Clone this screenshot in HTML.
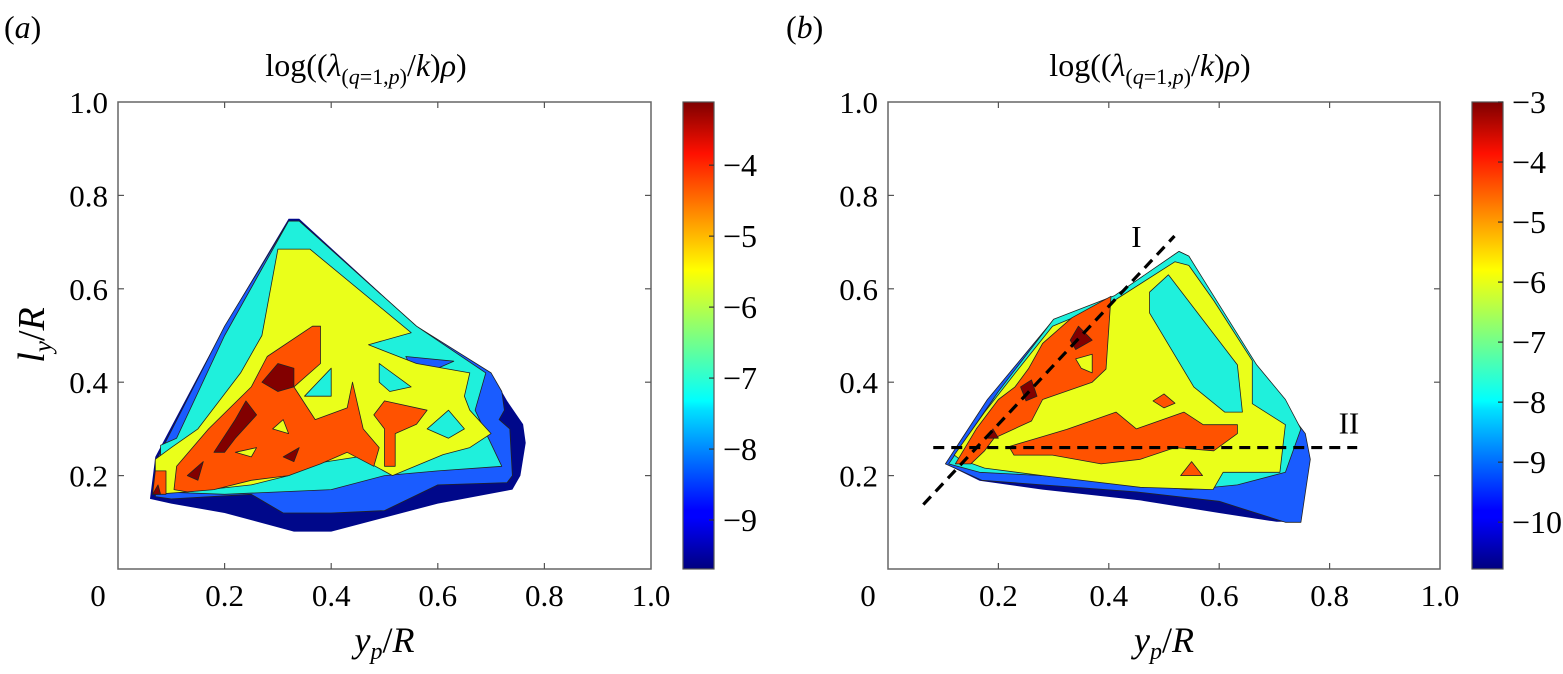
<!DOCTYPE html>
<html><head><meta charset="utf-8">
<style>
html,body{margin:0;padding:0;background:#fff;}
svg{display:block;}
text{font-family:"Liberation Serif","Times New Roman",Tinos,"DejaVu Serif",serif;}
</style></head>
<body>
<svg id="fig" width="1563" height="674" viewBox="0 0 1563 674" xmlns="http://www.w3.org/2000/svg">
<defs>
<linearGradient id="jet" x1="0" y1="1" x2="0" y2="0">
<stop offset="0" stop-color="#00007f"/><stop offset="0.11" stop-color="#0000ff"/>
<stop offset="0.125" stop-color="#0000ff"/><stop offset="0.34" stop-color="#00dfff"/>
<stop offset="0.36" stop-color="#00ffff"/><stop offset="0.5" stop-color="#7fff7f"/>
<stop offset="0.64" stop-color="#ffff00"/><stop offset="0.89" stop-color="#ff1000"/>
<stop offset="1" stop-color="#7f0000"/>
</linearGradient>
</defs>
</svg>
<script>
const NS="http://www.w3.org/2000/svg";
const svg=document.getElementById('fig');
function mk(tag,attrs,parent){const e=document.createElementNS(NS,tag);for(const k in attrs)e.setAttribute(k,attrs[k]);if(tag==='text')e.style.fontFamily='"Liberation Serif","Times New Roman",Tinos,"DejaVu Serif",serif';(parent||svg).appendChild(e);return e;}

const xTicks=[0,0.2,0.4,0.6,0.8,1.0];
const yTicks=[0.2,0.4,0.6,0.8,1.0];
const xTickLabels=["0","0.2","0.4","0.6","0.8","1.0"];
const yTickLabels=["0.2","0.4","0.6","0.8","1.0"];
const levelColors={navy:"#00088a",blue:"#1a5cff",cyan:"#1ff0dc",yellow:"#eaff1a",orange:"#ff5200",dark:"#820000"};

const regionsA=[
 ["navy",[[0.06,0.15],[0.07,0.24],[0.2,0.52],[0.32,0.75],[0.34,0.75],[0.56,0.52],[0.7,0.42],[0.73,0.36],[0.76,0.31],[0.765,0.27],[0.755,0.2],[0.74,0.17],[0.6,0.14],[0.5,0.11],[0.4,0.08],[0.33,0.08],[0.2,0.12],[0.1,0.14]]],
 ["blue",[[0.07,0.155],[0.075,0.24],[0.2,0.52],[0.32,0.745],[0.34,0.745],[0.56,0.52],[0.7,0.42],[0.72,0.38],[0.725,0.34],[0.715,0.32],[0.735,0.3],[0.74,0.2],[0.73,0.185],[0.6,0.18],[0.5,0.125],[0.4,0.12],[0.31,0.12],[0.25,0.16],[0.1,0.15]]],
 ["cyan",[[0.08,0.165],[0.08,0.265],[0.11,0.28],[0.2,0.5],[0.32,0.745],[0.34,0.745],[0.56,0.52],[0.69,0.42],[0.67,0.34],[0.72,0.22],[0.6,0.21],[0.5,0.2],[0.4,0.17],[0.2,0.16]]],
 ["blue",[[0.54,0.455],[0.63,0.445],[0.56,0.41]]],
 ["yellow",[[0.07,0.16],[0.07,0.235],[0.1,0.26],[0.15,0.3],[0.23,0.42],[0.27,0.5],[0.3,0.685],[0.36,0.685],[0.55,0.506],[0.47,0.48],[0.56,0.44],[0.66,0.42],[0.65,0.37],[0.66,0.34],[0.7,0.29],[0.66,0.26],[0.61,0.245],[0.515,0.2],[0.45,0.24],[0.365,0.225],[0.32,0.2],[0.25,0.18],[0.13,0.165]]],
 ["cyan",[[0.35,0.37],[0.4,0.43],[0.4,0.37]]],
 ["cyan",[[0.49,0.44],[0.55,0.39],[0.51,0.38],[0.49,0.4]]],
 ["cyan",[[0.58,0.3],[0.62,0.34],[0.65,0.3],[0.62,0.28]]],
 ["orange",[[0.105,0.17],[0.11,0.22],[0.17,0.3],[0.25,0.39],[0.28,0.455],[0.365,0.52],[0.38,0.52],[0.38,0.44],[0.33,0.39],[0.37,0.32],[0.43,0.345],[0.44,0.4],[0.46,0.3],[0.49,0.26],[0.48,0.22],[0.43,0.25],[0.38,0.225],[0.32,0.2],[0.25,0.19],[0.18,0.17],[0.13,0.165]]],
 ["orange",[[0.5,0.36],[0.58,0.34],[0.56,0.31],[0.52,0.29],[0.52,0.22],[0.5,0.22],[0.5,0.3],[0.48,0.33]]],
 ["orange",[[0.065,0.16],[0.07,0.21],[0.09,0.21],[0.09,0.16]]],
 ["yellow",[[0.22,0.25],[0.26,0.26],[0.25,0.24]]],
 ["yellow",[[0.29,0.3],[0.31,0.32],[0.32,0.29]]],
 ["dark",[[0.27,0.4],[0.3,0.44],[0.33,0.43],[0.33,0.39],[0.3,0.38]]],
 ["dark",[[0.18,0.25],[0.22,0.32],[0.24,0.36],[0.26,0.33],[0.22,0.28],[0.2,0.25]]],
 ["dark",[[0.13,0.2],[0.16,0.23],[0.15,0.19]]],
 ["dark",[[0.065,0.16],[0.075,0.18],[0.08,0.16]]],
 ["dark",[[0.31,0.24],[0.34,0.26],[0.33,0.23]]]
];
const regionsB=[
 ["navy",[[0.104,0.225],[0.18,0.363],[0.3,0.534],[0.41,0.584],[0.527,0.68],[0.545,0.67],[0.668,0.428],[0.756,0.29],[0.765,0.235],[0.748,0.101],[0.704,0.101],[0.6,0.12],[0.457,0.147],[0.28,0.17],[0.166,0.189]]],
 ["blue",[[0.104,0.225],[0.18,0.363],[0.3,0.534],[0.41,0.584],[0.527,0.68],[0.545,0.67],[0.668,0.428],[0.756,0.29],[0.765,0.235],[0.748,0.1],[0.72,0.1],[0.6,0.145],[0.45,0.165],[0.17,0.19]]],
 ["cyan",[[0.11,0.225],[0.2,0.38],[0.3,0.535],[0.41,0.585],[0.527,0.68],[0.545,0.67],[0.668,0.437],[0.72,0.363],[0.748,0.3],[0.72,0.207],[0.633,0.18],[0.545,0.17],[0.457,0.18],[0.28,0.2],[0.166,0.207]]],
 ["yellow",[[0.12,0.244],[0.175,0.336],[0.236,0.428],[0.298,0.52],[0.41,0.575],[0.52,0.658],[0.545,0.65],[0.59,0.575],[0.66,0.446],[0.66,0.354],[0.72,0.309],[0.71,0.207],[0.607,0.207],[0.589,0.17],[0.457,0.175],[0.28,0.2],[0.175,0.216],[0.13,0.235]]],
 ["cyan",[[0.474,0.593],[0.508,0.63],[0.633,0.437],[0.642,0.336],[0.61,0.336],[0.554,0.39],[0.474,0.548]]],
 ["orange",[[0.122,0.225],[0.16,0.3],[0.2,0.363],[0.23,0.39],[0.255,0.43],[0.28,0.483],[0.333,0.538],[0.404,0.584],[0.395,0.428],[0.37,0.4],[0.28,0.363],[0.26,0.317],[0.192,0.28],[0.175,0.253],[0.15,0.225]]],
 ["orange",[[0.219,0.262],[0.27,0.28],[0.324,0.299],[0.413,0.336],[0.45,0.3],[0.536,0.336],[0.571,0.309],[0.633,0.309],[0.633,0.29],[0.59,0.253],[0.52,0.26],[0.457,0.235],[0.386,0.225],[0.298,0.244],[0.228,0.244]]],
 ["orange",[[0.48,0.36],[0.5,0.375],[0.52,0.355],[0.5,0.345]]],
 ["orange",[[0.53,0.2],[0.55,0.23],[0.57,0.2]]],
 ["yellow",[[0.34,0.45],[0.37,0.46],[0.37,0.42],[0.35,0.43]]],
 ["dark",[[0.33,0.49],[0.345,0.52],[0.37,0.49],[0.34,0.47]]],
 ["dark",[[0.24,0.39],[0.26,0.405],[0.27,0.37],[0.25,0.36]]],
 ["dark",[[0.18,0.28],[0.19,0.3],[0.2,0.28]]]
];
const lineI=[[0.064,0.138],[0.519,0.713]];
const lineII=[[0.082,0.26],[0.85,0.26]];
const cbTicksA=[-4,-5,-6,-7,-8,-9];
const cbTicksB=[-3,-4,-5,-6,-7,-8,-9,-10];

function panel(cfg){
 const g=mk('g',{});
 
 
 const X=v=>cfg.x0+v*(cfg.x1-cfg.x0);
 const Y=v=>cfg.y1-v*(cfg.y1-cfg.y0);
 const plot=mk('g',{},g);
 
 
 cfg.regions.forEach(r=>{
  const pts=r[1].map(p=>X(p[0]).toFixed(1)+','+Y(p[1]).toFixed(1)).join(' ');
  const p=mk('polygon',{points:pts,fill:levelColors[r[0]],stroke:r[0]==='navy'?'none':'#222','stroke-width':0.8,'stroke-linejoin':'round'},plot);
  
  
 });
 const fr=mk('rect',{x:cfg.x0,y:cfg.y0,width:cfg.x1-cfg.x0,height:cfg.y1-cfg.y0,fill:'none',stroke:'#666','stroke-width':1.5},g);
 
 
 xTicks.forEach((t,i)=>{
  const x=X(t);
  if(i>0&&i<xTicks.length-1){mk('line',{x1:x,y1:cfg.y1,x2:x,y2:cfg.y1-6,stroke:'#555','stroke-width':1.2},g);mk('line',{x1:x,y1:cfg.y0,x2:x,y2:cfg.y0+6,stroke:'#555','stroke-width':1.2},g);}
  const tx=mk('text',{x:t===0?x-20:x,y:cfg.y1+37,'text-anchor':'middle','font-size':31},g);
  tx.textContent=xTickLabels[i];
  
  
 });
 yTicks.forEach((t,i)=>{
  const y=Y(t);
  if(i<yTicks.length-1){mk('line',{x1:cfg.x0,y1:y,x2:cfg.x0+6,y2:y,stroke:'#555','stroke-width':1.2},g);mk('line',{x1:cfg.x1,y1:y,x2:cfg.x1-6,y2:y,stroke:'#555','stroke-width':1.2},g);}
  const tx=mk('text',{x:cfg.x0-10,y:y+11,'text-anchor':'end','font-size':31},g);
  tx.textContent=yTickLabels[i];
  
  
 });
 const ti=mk('text',{x:cfg.titleX,y:76,'text-anchor':'middle','font-size':32},g);
 ti.innerHTML='log((<tspan font-style="italic">λ</tspan><tspan font-size="22" dy="8">(<tspan font-style="italic">q</tspan>=1,<tspan font-style="italic">p</tspan>)</tspan><tspan dy="-8">/</tspan><tspan font-style="italic">k</tspan>)<tspan font-style="italic">ρ</tspan>)';
 
 
 const pl=mk('text',{x:cfg.labX,y:38,'font-size':32},g);
 pl.innerHTML='(<tspan font-style="italic">'+cfg.letter+'</tspan>)';
 
 
 const xl=mk('text',{x:(cfg.x0+cfg.x1)/2,y:652,'text-anchor':'middle','font-size':36},g);
 xl.innerHTML='<tspan font-style="italic">y</tspan><tspan font-style="italic" font-size="24" dy="7">p</tspan><tspan dy="-7">/</tspan><tspan font-style="italic">R</tspan>';
 
 
 const cb=mk('rect',{x:cfg.cbx,y:cfg.y0,width:31,height:cfg.y1-cfg.y0,fill:'url(#jet)',stroke:'#555','stroke-width':1.2},g);
 
 
 const CY=v=>cfg.y1-(v-cfg.cbMin)/(cfg.cbMax-cfg.cbMin)*(cfg.y1-cfg.y0);
 cfg.cbTicks.forEach(t=>{
  const y=CY(t);
  mk('line',{x1:cfg.cbx+31,y1:y,x2:cfg.cbx+26,y2:y,stroke:'#333','stroke-width':1.2},g);
  const tx=mk('text',{x:cfg.cbx+40,y:y+11,'font-size':32},g);
  tx.textContent='\u2212'+Math.abs(t);
  
  
 });
 return {g,X,Y};
}

const pa=panel({name:'panel-a',x0:118,x1:651,y0:102,y1:569,regions:regionsA,titleX:366,labX:4,letter:'a',cbx:683,cbMin:-9.69,cbMax:-3.11,cbTicks:cbTicksA});
const yl=mk('text',{x:0,y:0,'text-anchor':'middle','font-size':38,transform:'translate(44,335) rotate(-90)'});
yl.innerHTML='<tspan font-style="italic">l</tspan><tspan font-style="italic" font-size="25" dy="7">y</tspan><tspan dy="-7">/</tspan><tspan font-style="italic">R</tspan>';



const pb=panel({name:'panel-b',x0:888,x1:1440,y0:102,y1:569,regions:regionsB,titleX:1150,labX:786,letter:'b',cbx:1472,cbMin:-10.78,cbMax:-3,cbTicks:cbTicksB});
[[lineI,'dashed-line-i'],[lineII,'dashed-line-ii']].forEach(([L,n])=>{
 const l=mk('line',{x1:pb.X(L[0][0]),y1:pb.Y(L[0][1]),x2:pb.X(L[1][0]),y2:pb.Y(L[1][1]),stroke:'#000','stroke-width':3.2,'stroke-dasharray':'11,7'});
 
 
});
const tI=mk('text',{x:pb.X(0.45),y:pb.Y(0.69),'text-anchor':'middle','font-size':31});
tI.textContent='I';


const tII=mk('text',{x:pb.X(0.835),y:pb.Y(0.29),'text-anchor':'middle','font-size':31});
tII.textContent='II';


</script>
</body></html>
